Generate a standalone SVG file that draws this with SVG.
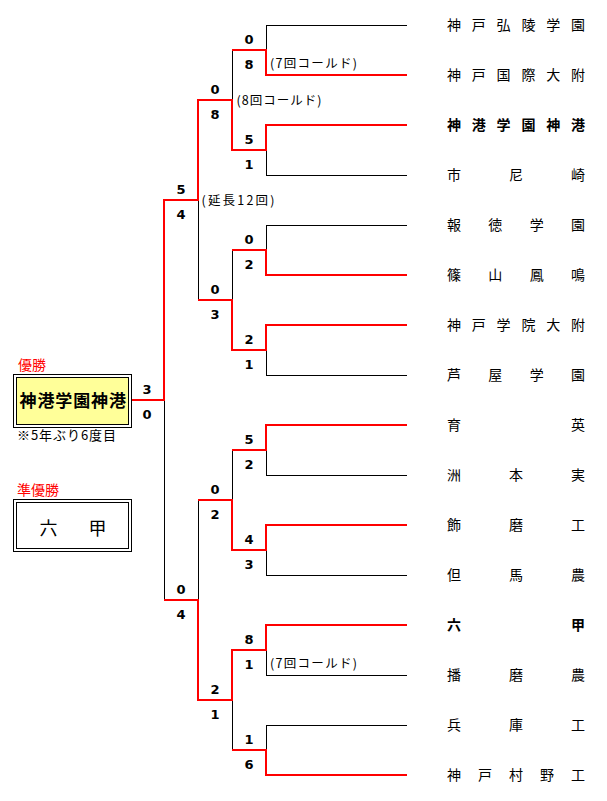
<svg xmlns="http://www.w3.org/2000/svg" width="607" height="801" viewBox="0 0 607 801">
<style>
.bk{stroke:#000;stroke-width:1;fill:none}
.rd{stroke:#ff0000;stroke-width:2;fill:none}
.sc{font-family:"DejaVu Sans","Liberation Sans",sans-serif;font-size:13px;font-weight:bold;fill:#000;text-anchor:middle}
.tm{font-family:"Noto Sans CJK JP",sans-serif;font-size:14px;fill:#000}
.tb{font-weight:bold}
.nt{font-family:"Noto Sans CJK JP",sans-serif;font-size:12.5px;fill:#000}
.lb{font-family:"Noto Sans CJK JP",sans-serif;font-size:14px;fill:#ff0000}
</style>
<rect width="607" height="801" fill="#fff"/>
<g id="connectors">
<path class="bk" d="M266,25.5H407M266,75.5H407M266,125.5H407M266,175.5H407M266,225.5H407M266,275.5H407M266,325.5H407M266,375.5H407M266,425.5H407M266,475.5H407M266,525.5H407M266,575.5H407M266,625.5H407M266,675.5H407M266,725.5H407M266,775.5H407"/>
<path class="bk" d="M266.5,25V76M266.5,125V176M266.5,225V276M266.5,325V376M266.5,425V476M266.5,525V576M266.5,625V676M266.5,725V776"/>
<path class="bk" d="M232,50.5H267M232,150.5H267M232,250.5H267M232,350.5H267M232,450.5H267M232,550.5H267M232,650.5H267M232,750.5H267"/>
<path class="bk" d="M232.5,50V151M232.5,250V351M232.5,450V551M232.5,650V751"/>
<path class="bk" d="M198,100.5H233M198,300.5H233M198,500.5H233M198,700.5H233"/>
<path class="bk" d="M198.5,100V301M198.5,500V701"/>
<path class="bk" d="M164,200.5H199M164,600.5H199M164.5,200V601M132,400.5H165"/>
<path class="rd" d="M407,125H266V150H232V100H198V200H164V400H132"/>
<path class="rd" d="M407,75H266V50H232"/>
<path class="rd" d="M407,275H266V250H232"/>
<path class="rd" d="M407,325H266V350H232V300H198"/>
<path class="rd" d="M407,425H266V450H232"/>
<path class="rd" d="M407,525H266V550H232V500H198"/>
<path class="rd" d="M407,625H266V650H232V700H198V600H164"/>
<path class="rd" d="M407,775H266V750H232"/>
</g>
<g id="scores">
<text class="sc" x="249" y="44">0</text><text class="sc" x="249" y="69">8</text>
<text class="sc" x="249" y="144">5</text><text class="sc" x="249" y="169">1</text>
<text class="sc" x="249" y="244">0</text><text class="sc" x="249" y="269">2</text>
<text class="sc" x="249" y="344">2</text><text class="sc" x="249" y="369">1</text>
<text class="sc" x="249" y="444">5</text><text class="sc" x="249" y="469">2</text>
<text class="sc" x="249" y="544">4</text><text class="sc" x="249" y="569">3</text>
<text class="sc" x="249" y="644">8</text><text class="sc" x="249" y="669">1</text>
<text class="sc" x="249" y="744">1</text><text class="sc" x="249" y="769">6</text>
<text class="sc" x="215" y="94">0</text><text class="sc" x="215" y="119">8</text>
<text class="sc" x="215" y="294">0</text><text class="sc" x="215" y="319">3</text>
<text class="sc" x="215" y="494">0</text><text class="sc" x="215" y="519">2</text>
<text class="sc" x="215" y="694">2</text><text class="sc" x="215" y="719">1</text>
<text class="sc" x="181" y="194">5</text><text class="sc" x="181" y="219">4</text>
<text class="sc" x="181" y="594">0</text><text class="sc" x="181" y="619">4</text>
<text class="sc" x="147" y="394">3</text><text class="sc" x="147" y="419">0</text>
</g>
<g id="notes">
<text class="nt" x="270" y="68" textLength="87" lengthAdjust="spacing">(7回コールド)</text>
<text class="nt" x="236.5" y="104.5" textLength="85" lengthAdjust="spacing">(8回コールド)</text>
<text class="nt" x="201.5" y="205" textLength="73" lengthAdjust="spacing">(延長12回)</text>
<text class="nt" x="270" y="668" textLength="87" lengthAdjust="spacing">(7回コールド)</text>
</g>
<g id="team-01"><text class="tm" x="447 471.8 496.6 521.4 546.2 571" y="30.3">神戸弘陵学園</text></g>
<g id="team-02"><text class="tm" x="447 471.8 496.6 521.4 546.2 571" y="80.3">神戸国際大附</text></g>
<g id="team-03"><text class="tm tb" x="447 471.8 496.6 521.4 546.2 571" y="130.3">神港学園神港</text></g>
<g id="team-04"><text class="tm" x="447 509 571" y="180.3">市尼崎</text></g>
<g id="team-05"><text class="tm" x="447 488.3 529.7 571" y="230.3">報徳学園</text></g>
<g id="team-06"><text class="tm" x="447 488.3 529.7 571" y="280.3">篠山鳳鳴</text></g>
<g id="team-07"><text class="tm" x="447 471.8 496.6 521.4 546.2 571" y="330.3">神戸学院大附</text></g>
<g id="team-08"><text class="tm" x="447 488.3 529.7 571" y="380.3">芦屋学園</text></g>
<g id="team-09"><text class="tm" x="447 571" y="430.3">育英</text></g>
<g id="team-10"><text class="tm" x="447 509 571" y="480.3">洲本実</text></g>
<g id="team-11"><text class="tm" x="447 509 571" y="530.3">飾磨工</text></g>
<g id="team-12"><text class="tm" x="447 509 571" y="580.3">但馬農</text></g>
<g id="team-13"><text class="tm tb" x="447 571" y="630.3">六甲</text></g>
<g id="team-14"><text class="tm" x="447 509 571" y="680.3">播磨農</text></g>
<g id="team-15"><text class="tm" x="447 509 571" y="730.3">兵庫工</text></g>
<g id="team-16"><text class="tm" x="447 478 509 540 571" y="780.3">神戸村野工</text></g>
<g id="champion">
<text class="lb" x="18" y="369.5">優勝</text>
<rect x="13.5" y="374.5" width="118" height="53" fill="#fff" stroke="#000"/>
<rect x="16.5" y="377.5" width="112" height="47" fill="#ffff99" stroke="#000"/>
<text x="19.5 37.4 55.3 73.2 91.1 109" y="407" font-family="Noto Sans CJK JP,sans-serif" font-size="17" font-weight="bold" fill="#000">神港学園神港</text>
<text x="17" y="440" font-family="Noto Sans CJK JP,sans-serif" font-size="13" fill="#000" textLength="99" lengthAdjust="spacing">※5年ぶり6度目</text>
</g>
<g id="runner-up">
<text class="lb" x="17" y="494.5">準優勝</text>
<rect x="13.5" y="499.5" width="118" height="52" fill="#fff" stroke="#000"/>
<rect x="16.5" y="502.5" width="112" height="46" fill="#fff" stroke="#000"/>
<text x="39.5 88.5" y="534.5" font-family="Noto Sans CJK JP,sans-serif" font-size="18" fill="#000">六甲</text>
</g>
</svg>
